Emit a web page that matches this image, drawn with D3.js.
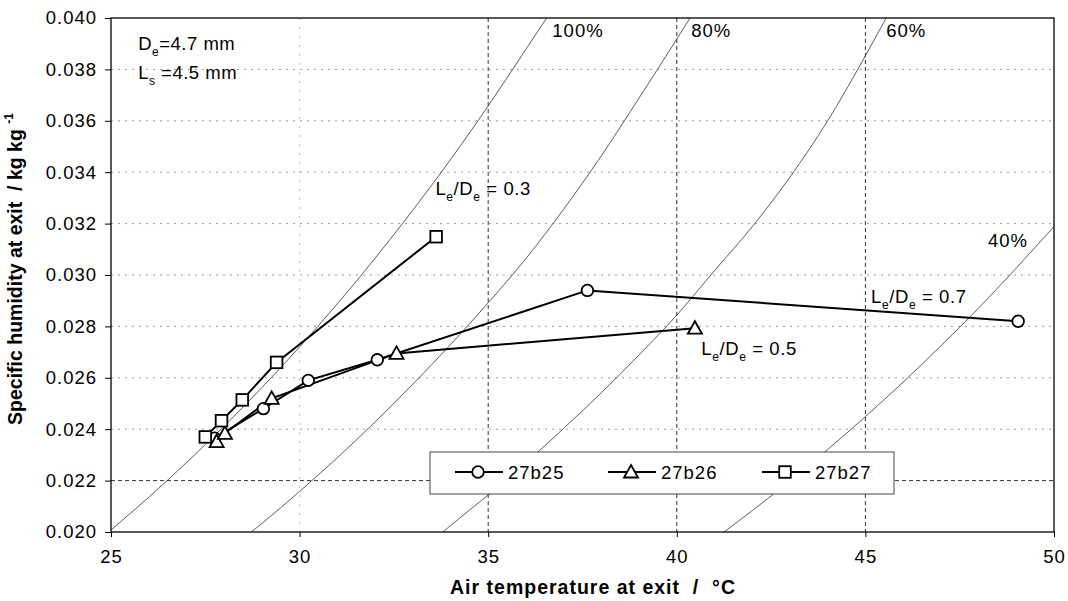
<!DOCTYPE html>
<html>
<head>
<meta charset="utf-8">
<script src="https://cdn.jsdelivr.net/npm/d3@7"></script>
<style>
  html, body { margin: 0; padding: 0; background: #fff; }
  svg { display: block; }
  text { font-family: "Liberation Sans", Arial, sans-serif; fill: #000; white-space: pre; }
</style>
</head>
<body>
<svg id="chart" width="1068" height="601"></svg>
<script>
// Axis ticks
const tempTicks = [25, 30, 35, 40, 45, 50];
const humTicks = [0.020, 0.022, 0.024, 0.026, 0.028, 0.030, 0.032, 0.034, 0.036, 0.038, 0.040];

// Measured exit states: temperature (°C) and specific humidity (kg/kg)
const series = ["27b25", "27b26", "27b27"];
const t27b25 = [27.75, 29.04, 30.23, 32.06, 37.63, 49.05];
const x27b25 = [0.02365, 0.0248, 0.0259, 0.0267, 0.0294, 0.0282];
const t27b26 = [27.8, 28.02, 29.26, 32.57, 40.48];
const x27b26 = [0.02352, 0.02384, 0.0252, 0.02695, 0.02793];
const t27b27 = [27.5, 27.93, 28.48, 29.39, 33.62];
const x27b27 = [0.0237, 0.02433, 0.02514, 0.0266, 0.03149];

// Constant relative-humidity lines (temperature, specific humidity)
const rhLabels = ["100%", "80%", "60%", "40%"];
const rh100T = [25, 26, 27, 28, 29, 30, 31, 32, 33, 34, 35, 36, 36.55];
const rh100X = [0.02008, 0.02135, 0.02270, 0.02412, 0.02562, 0.02720, 0.02888, 0.03065, 0.03252, 0.03449, 0.03658, 0.03878, 0.0400];
const rh80T = [28.72, 29, 30, 31, 32, 33, 34, 35, 36, 37, 38, 39, 40, 40.35];
const rh80X = [0.0200, 0.02033, 0.02158, 0.02289, 0.02428, 0.02575, 0.02729, 0.02892, 0.03064, 0.03256, 0.03464, 0.03689, 0.03918, 0.0400];
const rh60T = [33.8, 34, 35, 36, 37, 38, 39, 40, 41, 42, 43, 44, 45, 45.55];
const rh60X = [0.0200, 0.02025, 0.02144, 0.02270, 0.02403, 0.02542, 0.02689, 0.02844, 0.03017, 0.03188, 0.03381, 0.0360, 0.03853, 0.0400];
const rh40T = [41.25, 42, 43, 44, 45, 46, 47, 48, 49, 50];
const rh40X = [0.0200, 0.02083, 0.02199, 0.02321, 0.02449, 0.02583, 0.02724, 0.02871, 0.03027, 0.03189];

const svg = d3.select("#chart");
const plotL = 111, plotR = 1054, plotT = 18, plotB = 532;
const FS = 18.5, LS = 1;   // body font size and letter spacing

const x = d3.scaleLinear().domain([25, 50]).range([plotL, plotR]);
const y = d3.scaleLinear().domain([0.020, 0.040]).range([plotB, plotT]);

svg.append("defs").append("clipPath").attr("id", "plotClip")
  .append("rect").attr("x", plotL).attr("y", plotT)
  .attr("width", plotR - plotL).attr("height", plotB - plotT);

// Grid
const isDark = d => Math.abs(d - 0.022) < 1e-9;
const grid = svg.append("g");
grid.selectAll("line.h").data(humTicks.slice(1, -1)).join("line")
  .attr("x1", plotL).attr("x2", plotR)
  .attr("y1", d => y(d)).attr("y2", d => y(d))
  .attr("stroke", d => isDark(d) ? "#333" : "#9a9a9a")
  .attr("stroke-width", 1)
  .attr("stroke-dasharray", d => isDark(d) ? "4,3" : "2,5");
grid.selectAll("line.v").data(tempTicks.slice(1, -1)).join("line")
  .attr("y1", plotT).attr("y2", plotB)
  .attr("x1", d => x(d)).attr("x2", d => x(d))
  .attr("stroke", d => d === 30 ? "#bbb" : "#333")
  .attr("stroke-width", 1)
  .attr("stroke-dasharray", d => d === 30 ? "2,7" : "4,3");

// Relative humidity curves
const rhLine = d3.line().x(d => x(d[0])).y(d => y(d[1])).curve(d3.curveMonotoneX);
const rhCurves = [
  d3.zip(rh100T, rh100X), d3.zip(rh80T, rh80X), d3.zip(rh60T, rh60X), d3.zip(rh40T, rh40X)
];
svg.append("g").attr("clip-path", "url(#plotClip)")
  .selectAll("path").data(rhCurves).join("path")
  .attr("d", rhLine)
  .attr("fill", "none").attr("stroke", "#333").attr("stroke-width", 0.8);

// Data series
const dataLine = d3.line().x(d => x(d[0])).y(d => y(d[1]));
const seriesData = [
  { name: series[0], pts: d3.zip(t27b25, x27b25), shape: "circle" },
  { name: series[1], pts: d3.zip(t27b26, x27b26), shape: "triangle" },
  { name: series[2], pts: d3.zip(t27b27, x27b27), shape: "square" }
];

function drawMarker(g, shape, cx, cy) {
  if (shape === "circle") {
    g.append("circle").attr("cx", cx).attr("cy", cy).attr("r", 5.8)
      .attr("fill", "#fff").attr("stroke", "#000").attr("stroke-width", 1.8);
  } else if (shape === "triangle") {
    g.append("path")
      .attr("d", `M${cx},${cy - 7}L${cx + 7},${cy + 5.5}L${cx - 7},${cy + 5.5}Z`)
      .attr("fill", "#fff").attr("stroke", "#000").attr("stroke-width", 1.8);
  } else {
    g.append("rect").attr("x", cx - 5.8).attr("y", cy - 5.8).attr("width", 11.6).attr("height", 11.6)
      .attr("fill", "#fff").attr("stroke", "#000").attr("stroke-width", 1.8);
  }
}

const seriesG = svg.append("g");
seriesData.forEach(s => {
  seriesG.append("path").attr("d", dataLine(s.pts))
    .attr("fill", "none").attr("stroke", "#000").attr("stroke-width", 2);
});
seriesData.forEach(s => {
  const mg = seriesG.append("g");
  s.pts.forEach(p => drawMarker(mg, s.shape, x(p[0]), y(p[1])));
});

// Frame
svg.append("rect").attr("x", plotL).attr("y", plotT)
  .attr("width", plotR - plotL).attr("height", plotB - plotT)
  .attr("fill", "none").attr("stroke", "#000").attr("stroke-width", 1.3);

// Axes
const xAxis = svg.append("g").attr("transform", `translate(0,${plotB})`)
  .call(d3.axisBottom(x).tickValues(tempTicks).tickSize(5).tickPadding(13).tickFormat(d3.format("d")));
const yAxis = svg.append("g").attr("transform", `translate(${plotL},0)`)
  .call(d3.axisLeft(y).tickValues(humTicks).tickSize(6).tickPadding(8).tickFormat(d3.format(".3f")));
[xAxis, yAxis].forEach(a => {
  a.select(".domain").remove();
  a.selectAll("line").attr("stroke", "#000");
  a.selectAll("text").attr("font-size", FS).attr("letter-spacing", LS)
    .attr("font-family", "'Liberation Sans', Arial, sans-serif").attr("fill", "#000");
});

// Axis titles
svg.append("text").attr("x", 736).attr("y", 594)
  .attr("text-anchor", "end").attr("font-size", 19.5).attr("font-weight", "bold")
  .attr("letter-spacing", 1)
  .text("Air temperature at exit  /  °C");
const yt = svg.append("text")
  .attr("transform", `translate(22,${(plotT + plotB) / 2 - 6}) rotate(-90)`)
  .attr("text-anchor", "middle").attr("font-size", 19.5).attr("font-weight", "bold");
yt.append("tspan").text("Specific humidity at exit  / kg kg ");
yt.append("tspan").attr("font-size", 12).attr("dy", -9).text("-1");

// RH curve labels
const rhLabelPos = [[36.7, 0.03925], [40.38, 0.03925], [45.55, 0.03925], [48.25, 0.03109]];
svg.append("g").selectAll("text").data(rhLabels).join("text")
  .attr("x", (d, i) => x(rhLabelPos[i][0])).attr("y", (d, i) => y(rhLabelPos[i][1]))
  .attr("font-size", FS).attr("letter-spacing", LS).text(d => d);

// Subscripted annotation helpers
function subText(px, py, main, sub, rest) {
  const t = svg.append("text").attr("x", px).attr("y", py)
    .attr("font-size", FS).attr("letter-spacing", 0.5);
  t.append("tspan").text(main);
  t.append("tspan").attr("font-size", 12).attr("dy", 6).text(sub);
  t.append("tspan").attr("dy", -6).text(rest);
  return t;
}
function ratioLabel(px, py, value) {
  const t = svg.append("text").attr("x", px).attr("y", py)
    .attr("font-size", FS).attr("letter-spacing", 0.6);
  t.append("tspan").text("L");
  t.append("tspan").attr("font-size", 12).attr("dy", 6).text("e");
  t.append("tspan").attr("dy", -6).text("/D");
  t.append("tspan").attr("font-size", 12).attr("dy", 6).text("e");
  t.append("tspan").attr("dy", -6).text(" = " + value);
}

subText(x(25.72), y(0.03875), "D", "e", "=4.7 mm");
subText(x(25.72), y(0.03762), "L", "s", " =4.5 mm");
ratioLabel(x(33.6), y(0.0331), "0.3");
ratioLabel(x(45.15), y(0.0289), "0.7");
ratioLabel(x(40.65), y(0.0269), "0.5");

// Legend
const legend = svg.append("g");
legend.append("rect").attr("x", 430).attr("y", 452).attr("width", 464).attr("height", 42)
  .attr("fill", "#fff").attr("stroke", "#444").attr("stroke-width", 1);
const legendX = [455, 608, 762];
seriesData.forEach((s, i) => {
  const lx = legendX[i], ly = 472;
  legend.append("line").attr("x1", lx).attr("x2", lx + 48).attr("y1", ly).attr("y2", ly)
    .attr("stroke", "#000").attr("stroke-width", 2);
  drawMarker(legend, s.shape, lx + 23, ly);
  legend.append("text").attr("x", lx + 53).attr("y", ly + 7)
    .attr("font-size", FS).attr("letter-spacing", LS).text(s.name);
});
</script>
</body>
</html>
